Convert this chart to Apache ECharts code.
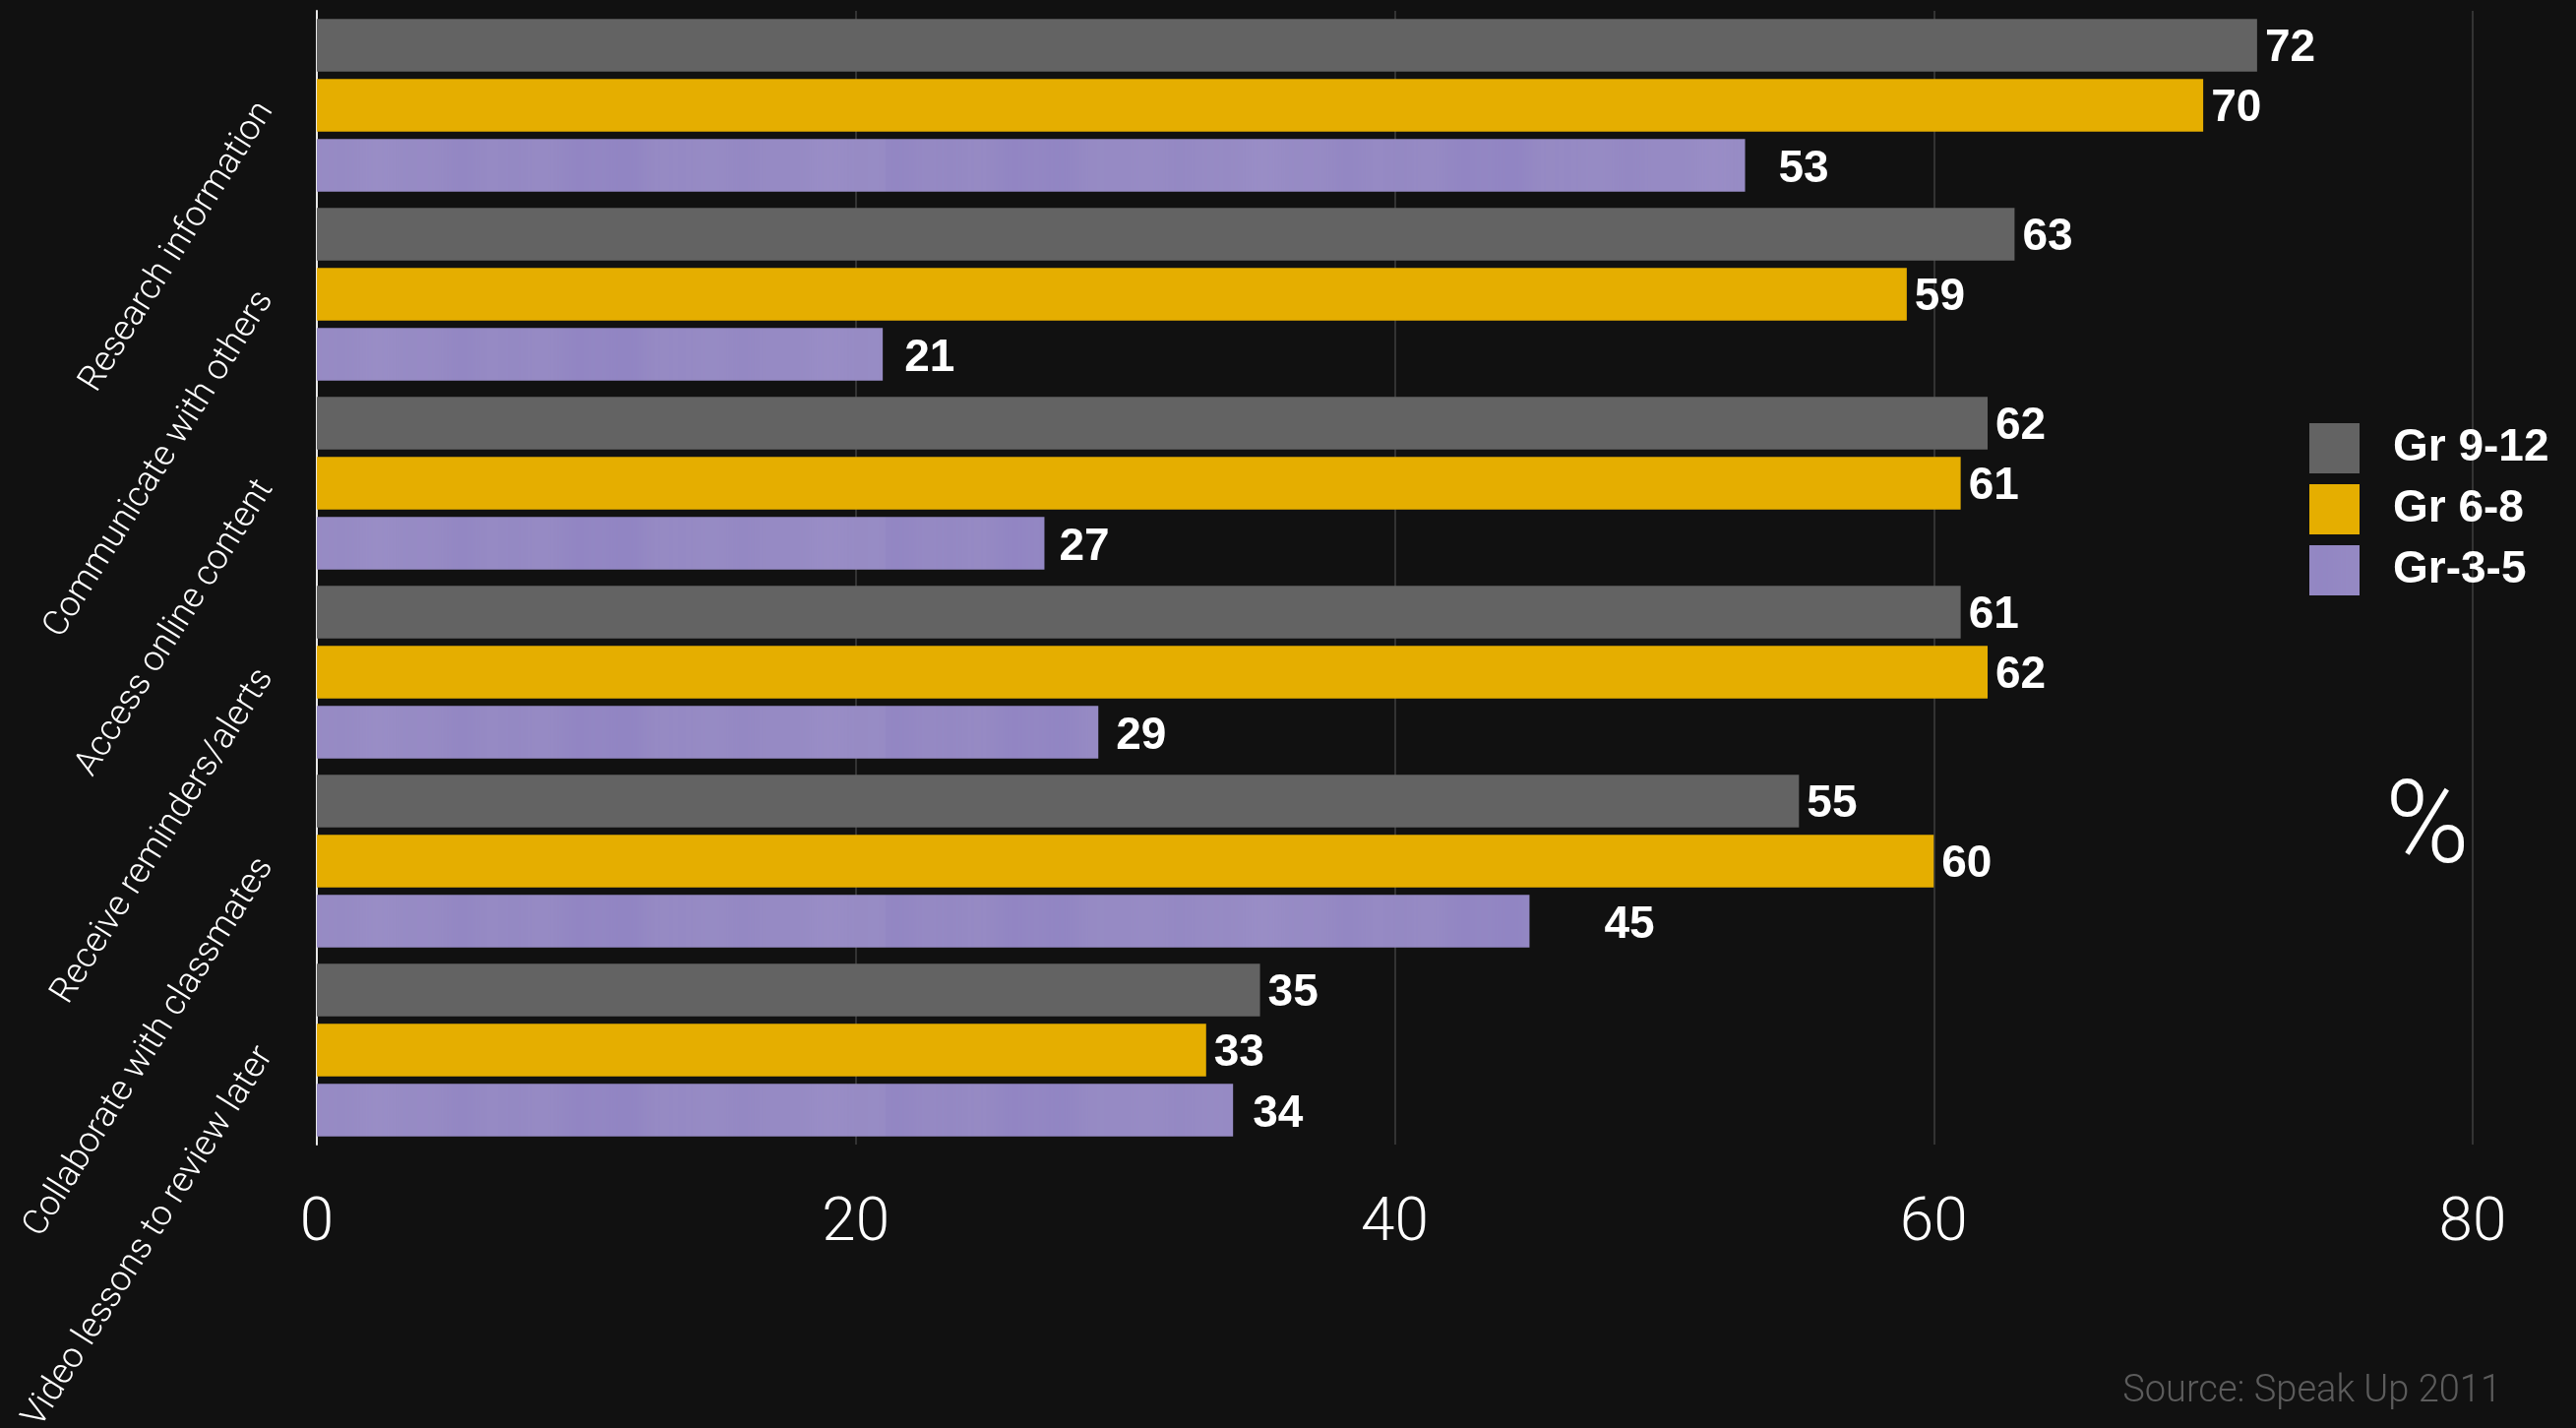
<!DOCTYPE html>
<html>
<head>
<meta charset="utf-8">
<script src="https://cdn.jsdelivr.net/npm/echarts@6/dist/echarts.min.js"></script>
<style>
  html, body { margin: 0; padding: 0; background: #111111; }
  #chart { width: 2618px; height: 1451px; }
</style>
</head>
<body>
<div id="chart"></div>
<script>
// Uses of technology for schoolwork, share of students by grade band (%)
const categories = [
  'Research information',
  'Communicate with others',
  'Access online content',
  'Receive reminders/alerts',
  'Collaborate with classmates',
  'Video lessons to review later'
];
const seriesNames = ['Gr 9-12', 'Gr 6-8', 'Gr-3-5'];
const gr9to12 = [72, 63, 62, 61, 55, 35];
const gr6to8 = [70, 59, 61, 62, 60, 33];
const gr3to5 = [53, 21, 27, 29, 45, 34];
const xTicks = [0, 20, 40, 60, 80];
// extra spacing between the lightest bars and their value labels
const gr3to5LabelGap = [34, 22, 15, 18, 76, 20];

const LIGHT = "'Roboto', 'Lato', 'Open Sans', sans-serif";
const BOLD = "'Liberation Sans', Arial, sans-serif";

// soft watercolour-like fill for the lavender bars
function lavenderPattern() {
  const c = document.createElement('canvas');
  c.width = 900; c.height = 60;
  const g = c.getContext('2d');
  g.fillStyle = '#968ac4';
  g.fillRect(0, 0, c.width, c.height);
  for (let x = 0; x < c.width; x++) {
    const v = Math.sin(x * 0.013) * 0.45 + Math.sin(x * 0.041 + 1.3) * 0.35 + Math.sin(x * 0.11 + 0.4) * 0.2;
    if (v > 0) {
      g.fillStyle = 'rgba(118,104,190,' + (v * 0.16).toFixed(3) + ')';
    } else {
      g.fillStyle = 'rgba(172,163,212,' + (-v * 0.14).toFixed(3) + ')';
    }
    g.fillRect(x, 0, 1, c.height);
  }
  return c;
}

const colors = ['#636363', '#e5ae00', { image: lavenderPattern(), repeat: 'repeat' }];
const values = [gr9to12, gr6to8, gr3to5];

const valueLabel = {
  show: true,
  position: 'right',
  distance: 8,
  offset: [0, 3],
  color: '#ffffff',
  fontFamily: BOLD,
  fontWeight: 'bold',
  fontSize: 46
};

const series = seriesNames.map((name, i) => ({
  name: name,
  type: 'bar',
  barGap: '14%',
  barCategoryGap: '8.5%',
  itemStyle: { color: colors[i] },
  label: valueLabel,
  data: i === 2
    ? values[i].map((v, k) => ({ value: v, label: { distance: gr3to5LabelGap[k], offset: [0, 4] } }))
    : values[i]
}));

const chart = echarts.init(document.getElementById('chart'), null, { renderer: 'canvas' });
chart.setOption({
  backgroundColor: '#111111',
  animation: false,
  grid: {
    left: 322, top: 11, right: 105, bottom: 288,
    containLabel: false,
    outerBoundsMode: 'none'
  },
  xAxis: {
    type: 'value',
    min: xTicks[0],
    max: xTicks[xTicks.length - 1],
    interval: xTicks[1] - xTicks[0],
    axisLine: { show: false },
    axisTick: { show: false },
    splitLine: { show: true, lineStyle: { color: '#333333', width: 2 } },
    axisLabel: {
      color: '#ffffff',
      fontFamily: LIGHT,
      fontWeight: 300,
      fontSize: 62,
      margin: 50
    }
  },
  yAxis: {
    type: 'category',
    data: categories,
    inverse: true,
    axisLine: { show: true, lineStyle: { color: '#e8e8e8', width: 2 } },
    axisTick: { show: false },
    splitLine: { show: false },
    axisLabel: {
      rotate: 58,
      margin: 52,
      color: '#ffffff',
      fontFamily: LIGHT,
      fontWeight: 300,
      fontSize: 36
    }
  },
  legend: {
    orient: 'vertical',
    left: 2347,
    top: 430,
    padding: 0,
    itemWidth: 51,
    itemHeight: 51,
    itemGap: 11,
    icon: 'rect',
    data: seriesNames,
    textStyle: {
      color: '#ffffff',
      fontFamily: BOLD,
      fontWeight: 'bold',
      fontSize: 46,
      padding: [0, 0, 0, 29]
    }
  },
  graphic: [
    {
      type: 'text',
      x: 2467,
      y: 847,
      style: {
        text: '%',
        fill: '#ffffff',
        font: '300 116px ' + LIGHT,
        textAlign: 'center',
        textVerticalAlign: 'middle'
      }
    },
    {
      type: 'text',
      x: 2542,
      y: 1433,
      style: {
        text: 'Source: Speak Up 2011',
        fill: '#5c5c5c',
        font: '300 38px ' + LIGHT,
        textAlign: 'right',
        textVerticalAlign: 'bottom'
      }
    }
  ],
  series: series
});
</script>
</body>
</html>
